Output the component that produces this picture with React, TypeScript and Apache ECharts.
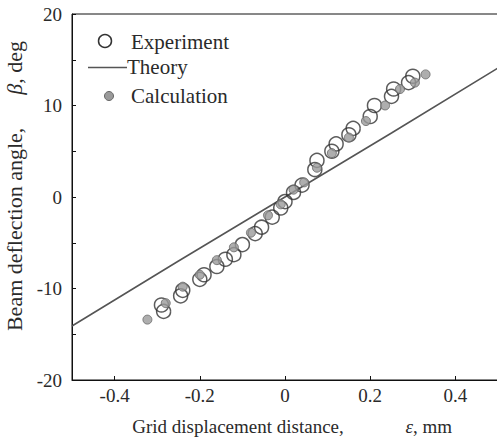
import React, { useEffect, useRef } from "react";
import * as echarts from "echarts";

const experiment: [number, number][] = [
  [-0.285, -12.5], [-0.29, -11.8], [-0.245, -10.8], [-0.24, -10.2],
  [-0.2, -9.0], [-0.19, -8.5], [-0.16, -7.6], [-0.14, -6.8],
  [-0.12, -6.3], [-0.1, -5.2], [-0.07, -4.0], [-0.055, -3.3],
  [-0.03, -2.2], [-0.01, -1.2], [0.0, -0.5], [0.02, 0.5],
  [0.04, 1.3], [0.07, 3.0], [0.075, 4.0], [0.11, 5.0],
  [0.12, 5.8], [0.15, 6.8], [0.16, 7.5], [0.2, 8.8],
  [0.21, 10.0], [0.25, 11.0], [0.255, 11.8], [0.29, 12.5], [0.3, 13.2],
];

const calculation: [number, number][] = [
  [-0.323, -13.4], [-0.28, -11.6], [-0.24, -9.8], [-0.2, -8.5],
  [-0.16, -6.9], [-0.12, -5.5], [-0.08, -3.9], [-0.04, -2.0],
  [-0.01, -0.8], [0.02, 0.8], [0.045, 1.6], [0.075, 3.2],
  [0.11, 4.8], [0.15, 6.5], [0.19, 8.3], [0.235, 10.0],
  [0.27, 11.8], [0.305, 12.5], [0.33, 13.4],
];

const theory: [number, number][] = [
  [-0.5, -14.1], [-0.25, -7.0], [0, 0], [0.25, 7.0], [0.5, 14.1],
];

const xTickValues = [-0.4, -0.2, 0, 0.2, 0.4];
const legendNames = ["Experiment", "Theory", "Calculation"];

const FONT = "Liberation Serif";
const TEXT = "#2a2a2a";
const EXP_STROKE = "#333";
const LINE_COLOR = "#555";
const CALC_FILL = "#9a9a9a";
const CALC_STROKE = "#666";

export default function App() {
  const ref = useRef<HTMLDivElement>(null);
  useEffect(() => {
    if (!ref.current) return;
    const chart = echarts.init(ref.current, undefined, { renderer: "svg" });
    const legendText = (text: string, x: number, y: number) => ({
      type: "text",
      x, y,
      style: { text, font: `21px "${FONT}"`, fill: TEXT, verticalAlign: "middle", align: "left" },
    });
    chart.setOption({
      animation: false,
      textStyle: { fontFamily: FONT, color: TEXT },
      grid: {
        left: 72, right: -1, top: 14, bottom: 62,
        show: true, borderColor: "#111", borderWidth: 1,
        containLabel: false, outerBoundsMode: "none",
      },
      graphic: [
        { type: "circle", shape: { cx: 105, cy: 41, r: 6.5 }, style: { fill: "none", stroke: EXP_STROKE, lineWidth: 1.5 } },
        legendText(legendNames[0], 131, 42),
        { type: "line", shape: { x1: 88, y1: 67.5, x2: 127, y2: 67.5 }, style: { stroke: LINE_COLOR, lineWidth: 1.6 } },
        legendText(legendNames[1], 127, 67),
        { type: "circle", shape: { cx: 109, cy: 96, r: 4.5 }, style: { fill: CALC_FILL, stroke: CALC_STROKE, lineWidth: 1 } },
        legendText(legendNames[2], 131, 96),
      ],
      xAxis: {
        type: "value",
        min: -0.5, max: 0.5,
        name: "   Grid displacement distance,             {i|ε}, mm",
        nameLocation: "middle",
        nameGap: 37,
        nameTextStyle: {
          fontFamily: FONT, fontSize: 19, color: TEXT,
          rich: { i: { fontStyle: "italic", fontFamily: FONT, fontSize: 19, color: TEXT } },
        },
        axisLine: { onZero: false, lineStyle: { color: "#111", width: 1 } },
        axisTick: { inside: true, length: 4, customValues: xTickValues, lineStyle: { color: "#111" } },
        axisLabel: {
          customValues: xTickValues, fontFamily: FONT, fontSize: 19, color: TEXT, margin: 6,
          formatter: (v: number) => (Math.abs(v) < 1e-9 ? "0" : String(Math.round(v * 10) / 10)),
        },
        splitLine: { show: false },
      },
      yAxis: {
        type: "value",
        min: -20, max: 20, interval: 5,
        name: "    Beam deflection angle,      {i|β}, deg",
        nameLocation: "middle",
        nameRotate: 90,
        nameGap: 43,
        nameTextStyle: {
          fontFamily: FONT, fontSize: 22, color: TEXT,
          rich: { i: { fontStyle: "italic", fontFamily: FONT, fontSize: 22, color: TEXT } },
        },
        axisLine: { onZero: false, lineStyle: { color: "#111", width: 1 } },
        axisTick: { inside: true, length: 4, lineStyle: { color: "#111" } },
        axisLabel: {
          fontFamily: FONT, fontSize: 19, color: TEXT, margin: 10,
          formatter: (v: number) => (v % 10 === 0 ? String(v) : ""),
        },
        splitLine: { show: false },
      },
      series: [
        {
          name: legendNames[0],
          type: "scatter",
          data: experiment,
          symbol: "circle",
          symbolSize: 14,
          itemStyle: { color: "rgba(255,255,255,0)", borderColor: EXP_STROKE, borderWidth: 1.5 },
          z: 2,
        },
        {
          name: legendNames[1],
          type: "line",
          data: theory,
          showSymbol: false,
          symbol: "none",
          lineStyle: { color: LINE_COLOR, width: 1.6 },
          z: 1,
        },
        {
          name: legendNames[2],
          type: "scatter",
          data: calculation,
          symbol: "circle",
          symbolSize: 9,
          itemStyle: { color: CALC_FILL, borderColor: CALC_STROKE, borderWidth: 1 },
          z: 3,
        },
      ],
    });
    return () => chart.dispose();
  }, []);
  return (
    <div
      ref={ref}
      style={{ position: "fixed", left: 0, top: 0, width: 497, height: 442, background: "#fff" }}
    />
  );
}
